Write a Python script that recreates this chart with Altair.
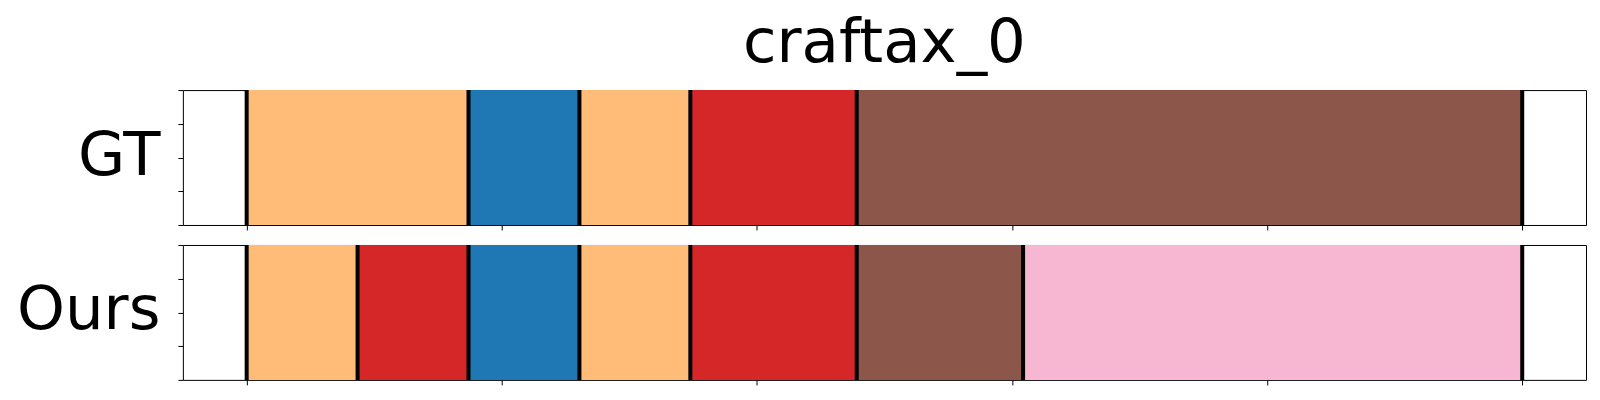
import altair as alt
import pandas as pd

# ---- data ----
TITLE = "craftax_0"
N_STEPS = 23

gt_label = "GT"
gt_starts = [0, 4, 6, 8, 11]
gt_ends = [4, 6, 8, 11, 23]
gt_classes = ["orange", "blue", "orange", "red", "brown"]

ours_label = "Ours"
ours_starts = [0, 2, 4, 6, 8, 11, 14]
ours_ends = [2, 4, 6, 8, 11, 14, 23]
ours_classes = ["orange", "red", "blue", "orange", "red", "brown", "pink"]

class_domain = ["blue", "orange", "red", "brown", "pink"]
class_colors = ["#1f77b4", "#ffbb78", "#d62728", "#8c564b", "#f7b6d2"]

x_tick_values = [0, 4.6, 9.2, 13.8, 18.4, 23]
y_tick_values = [0, 0.25, 0.5, 0.75, 1]

FONT = "DejaVu Sans"
FS = 61
W, H = 1404, 135


def panel(starts, ends, classes, row_label, title=None):
    seg = pd.DataFrame({"start": starts, "end": ends, "cls": classes})
    bnd = pd.DataFrame({"t": list(starts) + [ends[-1]]})
    xscale = alt.Scale(domain=[-0.05 * N_STEPS, 1.05 * N_STEPS], nice=False, zero=False)
    yscale = alt.Scale(domain=[0, 1], nice=False, zero=False)
    xaxis = alt.Axis(values=x_tick_values, labels=False, domain=False, grid=False,
                     title=None, ticks=True, tickSize=5, tickColor="black", tickWidth=1)
    yaxis = alt.Axis(values=y_tick_values, labels=False, domain=False, grid=False,
                     ticks=True, tickSize=5, tickColor="black", tickWidth=1,
                     title=row_label, titleAngle=0, titleAlign="right",
                     titleBaseline="alphabetic", titleX=-23, titleY=84,
                     titleFont=FONT, titleFontSize=FS, titleFontWeight="normal",
                     titleColor="black")
    rect = alt.Chart(seg).mark_rect().encode(
        x=alt.X("start:Q", scale=xscale, axis=xaxis),
        x2="end:Q",
        y=alt.YDatum(0, type="quantitative", scale=yscale, axis=yaxis),
        y2=alt.Y2Datum(1),
        color=alt.Color("cls:N", scale=alt.Scale(domain=class_domain, range=class_colors), legend=None),
    )
    rule = alt.Chart(bnd).mark_rule(color="black", strokeWidth=4).encode(
        x=alt.X("t:Q", scale=xscale, axis=xaxis),
    )
    ch = alt.layer(rect, rule).properties(width=W, height=H)
    if title:
        ch = ch.properties(title=alt.TitleParams(title, font=FONT, fontSize=FS, fontWeight="normal",
                                                 color="black", anchor="middle",
                                                 baseline="alphabetic", offset=-35))
    return ch


gt = panel(gt_starts, gt_ends, gt_classes, gt_label, TITLE)
ours = panel(ours_starts, ours_ends, ours_classes, ours_label)

chart = alt.vconcat(gt, ours, spacing=20, bounds="flush").configure_view(
    stroke="black", strokeWidth=1
).properties(padding={"left": 7, "top": 4, "right": 5, "bottom": 5}, background="white")

chart.save("out.html", embed_options={"renderer": "svg", "actions": False})
